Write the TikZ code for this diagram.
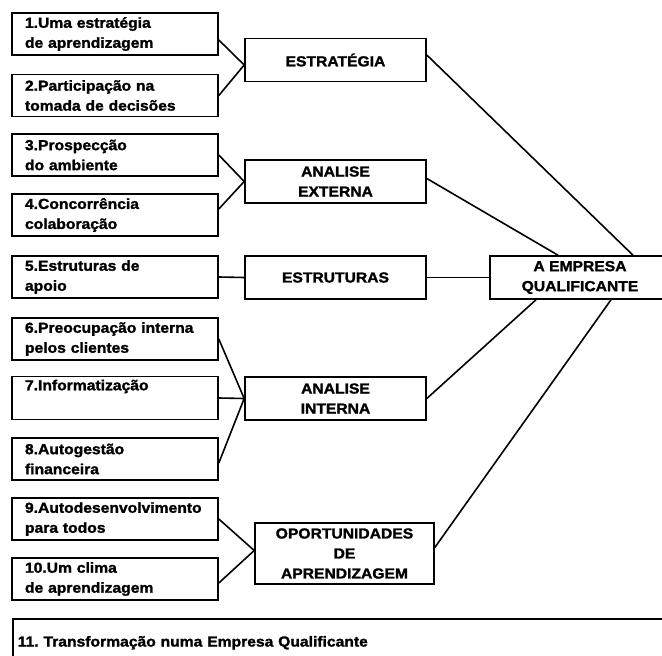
\documentclass[tikz,border=0pt]{standalone}
\usepackage{fontspec}
\newfontfamily\boxfont[FakeStretch=1.08,FakeBold=1.6]{Liberation Sans Bold}

\begin{document}
\begin{tikzpicture}[x=1pt,y=-1pt,line width=1.6pt]
  \tikzstyle{item}=[draw,align=left,text width=180pt,inner xsep=13pt,minimum height=42pt,font=\boxfont\fontsize{14.5}{20}\selectfont]
  \tikzstyle{group}=[draw,align=center,minimum width=181pt,minimum height=43pt,inner sep=2pt,font=\boxfont\fontsize{14.5}{20}\selectfont]
  \useasboundingbox (0,0) rectangle (662,656);
  \clip (0,0) rectangle (662,656);

  % left column
  \node[item] (B_1) at (115,34) {1.Uma estratégia\\de aprendizagem};
  \node[item] (B_2) at (115,95.5) {2.Participação na\\tomada de decisões};
  \node[item] (B_3) at (115,155) {3.Prospecção\\do ambiente};
  \node[item] (B_4) at (115,215) {4.Concorrência\\colaboração};
  \node[item] (B_5) at (115,277) {5.Estruturas de\\apoio};
  \node[item] (B_6) at (115,339) {6.Preocupação interna\\pelos clientes};
  \node[item] (B_7) at (115,398) {7.Informatização\\\strut};
  \node[item] (B_8) at (115,459) {8.Autogestão\\financeira};
  \node[item] (B_9) at (115,519) {9.Autodesenvolvimento\\para todos};
  \node[item] (B_10) at (115,579) {10.Um clima\\de aprendizagem};
  \node[item,anchor=north west,text width=668pt,inner xsep=5pt,minimum height=48pt] (B_11) at (12,618) {11.\ Transformação numa Empresa Qualificante};

  % middle column
  \node[group] (M_1) at (335.5,60) {ESTRATÉGIA};
  \node[group] (M_2) at (335.5,181.5) {ANALISE\\EXTERNA};
  \node[group] (M_3) at (335.5,277.5) {ESTRUTURAS};
  \node[group] (M_4) at (335.5,398.5) {ANALISE\\INTERNA};
  \node[group,minimum width=179pt,minimum height=61pt] (M_5) at (344.5,553.5) {OPORTUNIDADES\\DE\\APRENDIZAGEM};

  \node[group,minimum width=180pt] (E) at (580,277.5) {A EMPRESA\\QUALIFICANTE};

  \draw ([yshift=-6pt]B_1.east) -- ([yshift=-5pt]M_1.west);
  \draw (B_2.east) -- ([yshift=-5pt]M_1.west);
  \draw (B_3.east) -- (M_2.west);
  \draw ([yshift=6pt]B_4.east) -- (M_2.west);
  \draw (B_5.east) -- (M_3.west);
  \draw (B_6.east) -- (M_4.west);
  \draw (B_7.east) -- (M_4.west);
  \draw ([yshift=-4pt]B_8.east) -- (M_4.west);
  \draw (B_9.east) -- ([yshift=3pt]M_5.west);
  \draw ([yshift=-4pt]B_10.east) -- ([yshift=3pt]M_5.west);

  \draw ([yshift=5pt]M_1.east) -- ([xshift=53pt]E.north);
  \draw ([yshift=3pt]M_2.east) -- ([xshift=-22pt]E.north);
  \draw (M_3.east) -- (E.west);
  \draw (M_4.east) -- ([xshift=-44pt]E.south);
  \draw ([yshift=6pt]M_5.east) -- ([xshift=31pt]E.south);
\end{tikzpicture}
\end{document}
